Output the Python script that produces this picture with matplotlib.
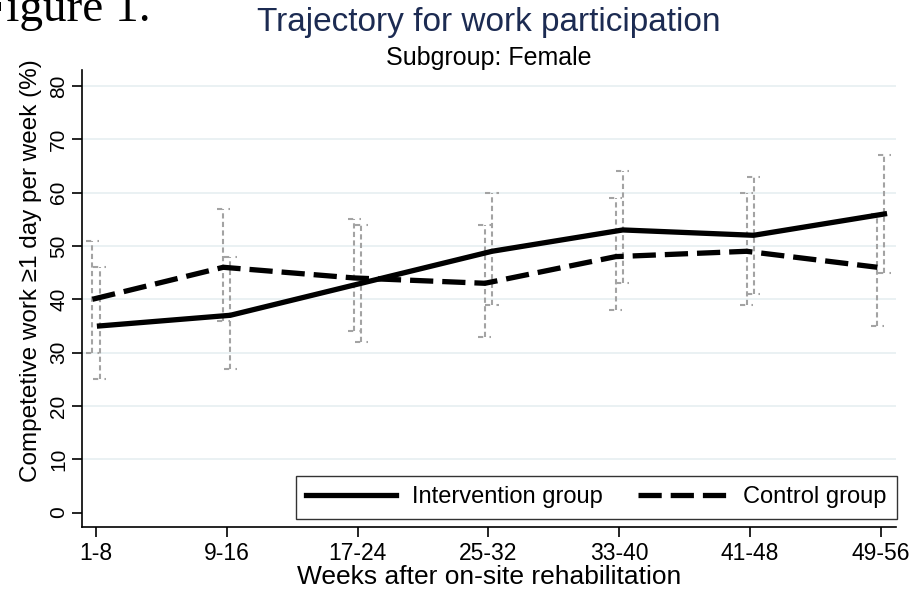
import matplotlib
matplotlib.use("Agg")
import matplotlib.pyplot as plt
import numpy as np

# data
periods = ["1-8", "9-16", "17-24", "25-32", "33-40", "41-48", "49-56"]
intervention = [35, 37, 43, 49, 53, 52, 56]
intervention_lo = [25, 27, 32, 39, 43, 41, 45]
intervention_hi = [46, 48, 54, 60, 64, 63, 67]
control = [40, 46, 44, 43, 48, 49, 46]
control_lo = [30, 36, 34, 33, 38, 39, 35]
control_hi = [51, 57, 55, 54, 59, 60, 56]
yticks = [0, 10, 20, 30, 40, 50, 60, 70, 80]

narrow = ["Liberation Sans Narrow", "Liberation Sans", "DejaVu Sans"]
arial = ["Liberation Sans", "DejaVu Sans"]

fig = plt.figure(figsize=(9.1, 5.95), dpi=100)
ax = fig.add_axes([0.0901, 0.1143, 0.8945, 0.7681])

x = np.arange(1, len(periods) + 1)
off = 0.027
ci_col = "#a3a3a3"
cap_w = 0.05

# grid
for yv in yticks[1:]:
    ax.axhline(yv, color="#e8f0f2", lw=1.3, zorder=0)

# confidence intervals (dashed grey caps)
def draw_ci(xs, lo, hi):
    ax.vlines(xs, lo, hi, colors=ci_col, lw=1.5, linestyles=(0, (2.5, 1.6)), zorder=1)
    for xx, a, b in zip(xs, lo, hi):
        ax.hlines([a, b], xx - cap_w, xx + cap_w, colors=ci_col, lw=1.5,
                  linestyles=(0, (2.5, 3.0)), zorder=1)

draw_ci(x - off, control_lo, control_hi)
draw_ci(x + off, intervention_lo, intervention_hi)

l1, = ax.plot(x + off, intervention, color="black", lw=3.8, solid_joinstyle="miter",
              label="Intervention group", zorder=3)
l2, = ax.plot(x - off, control, color="black", lw=3.8, dashes=(4.4, 1.7),
              label="Control group", zorder=3)

ax.set_xlim(0.893, 7.115)
ax.set_ylim(-2.7, 83)
ax.set_xticks(x)
ax.set_xticklabels(periods, family=narrow, fontsize=16.5)
ax.set_yticks(yticks)
ax.set_yticklabels([str(v) for v in yticks], family=arial, fontsize=15,
                   rotation=90, va="center")
ax.tick_params(axis="both", direction="out", length=7, width=1.2, color="black")
ax.tick_params(axis="x", pad=4)
ax.tick_params(axis="y", pad=3)
for s in ["top", "right"]:
    ax.spines[s].set_visible(False)
for s in ["left", "bottom"]:
    ax.spines[s].set_linewidth(1.2)

ax.set_ylabel("Competetive work \u22651 day per week (%)", family=arial,
              fontsize=17.5)
ax.yaxis.set_label_coords(-0.049, 0.562)
ax.set_xlabel("Weeks after on-site rehabilitation", family=narrow,
              fontsize=19)
ax.xaxis.set_label_coords(0.5, -0.083)

leg = ax.legend(handles=[l1, l2], loc="lower right", bbox_to_anchor=(1.001, 0.0175),
                borderaxespad=0, ncol=2, frameon=True, fancybox=False,
                handlelength=3.8, columnspacing=1.5, handletextpad=0.65,
                borderpad=0.45, prop={"family": narrow, "size": 17})
leg.get_frame().set_edgecolor("black")
leg.get_frame().set_linewidth(1.0)

fig.text(0.5375, 0.962, "Trajectory for work participation", family=narrow,
         fontsize=24, color="#1c2b52", ha="center", va="center")
fig.text(0.5375, 0.903, "Subgroup: Female", family=narrow, fontsize=18,
         color="black", ha="center", va="center")
fig.text(-0.022, 0.965, "Figure 1.", family=["Liberation Serif", "DejaVu Serif"],
         fontsize=34, ha="left", va="baseline")

fig.savefig("out.png", dpi=100)
